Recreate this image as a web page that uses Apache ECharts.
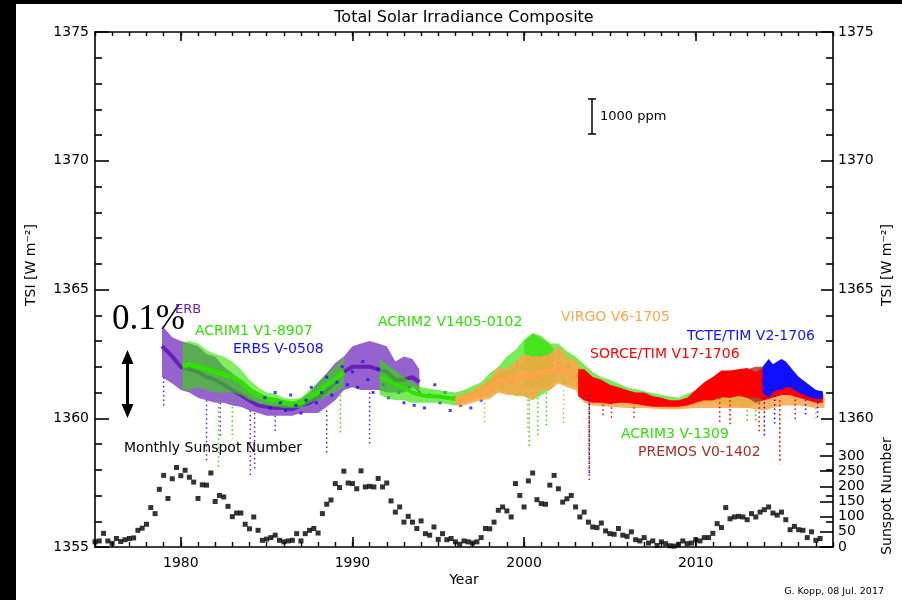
<!DOCTYPE html>
<html>
<head>
<meta charset="utf-8">
<script src="https://cdn.jsdelivr.net/npm/echarts@6/dist/echarts.min.js"></script>
<style>
  html, body { margin: 0; padding: 0; background: #fff; }
  #chart { width: 902px; height: 600px; }
</style>
</head>
<body>
<div id="chart"></div>
<script>
// ---- data (W m^-2, decimal years) ----
const erbYears = [1978.9, 1979.5, 1980, 1980.5, 1981, 1981.5, 1982, 1982.5, 1983, 1983.5, 1984, 1984.5, 1985, 1985.5, 1986, 1986.5, 1987, 1987.5, 1988, 1988.5, 1989, 1989.5, 1990, 1990.5, 1991, 1991.5, 1992, 1992.5, 1993, 1993.5, 1993.9];
const erbMid = [1362.8, 1362.4, 1362.0, 1361.9, 1361.8, 1361.6, 1361.5, 1361.3, 1361.1, 1360.9, 1360.7, 1360.5, 1360.45, 1360.4, 1360.4, 1360.35, 1360.5, 1360.6, 1360.8, 1361.1, 1361.4, 1361.8, 1362.0, 1362.0, 1362.0, 1361.9, 1361.8, 1361.5, 1361.5, 1361.6, 1361.4];
const erbLo = [1361.6, 1361.35, 1361.1, 1361.0, 1360.8, 1360.7, 1360.6, 1360.6, 1360.5, 1360.45, 1360.3, 1360.2, 1360.1, 1360.1, 1360.1, 1360.1, 1360.2, 1360.2, 1360.2, 1360.45, 1360.7, 1361.1, 1361.2, 1361.1, 1361.1, 1361.1, 1361.0, 1361.0, 1361.0, 1361.2, 1361.0];
const erbHi = [1363.6, 1363.15, 1363.0, 1362.9, 1362.8, 1362.5, 1362.4, 1362.0, 1361.75, 1361.5, 1361.1, 1360.8, 1360.7, 1360.65, 1360.6, 1360.6, 1360.75, 1361.0, 1361.4, 1361.75, 1362.15, 1362.4, 1362.8, 1362.9, 1363.0, 1362.9, 1362.8, 1362.2, 1362.4, 1362.3, 1361.9];

const acrim1Years = [1980.1, 1980.5, 1981, 1981.5, 1982, 1982.5, 1983, 1983.5, 1984, 1984.5, 1985, 1985.5, 1986, 1986.5, 1987, 1987.5, 1988, 1988.5, 1989, 1989.5];
const acrim1Mid = [1362.0, 1362.1, 1362.0, 1361.9, 1361.8, 1361.7, 1361.6, 1361.4, 1361.1, 1360.9, 1360.75, 1360.7, 1360.6, 1360.55, 1360.6, 1360.85, 1361.0, 1361.3, 1361.5, 1361.8];
const acrim1Lo = [1361.1, 1361.1, 1361.2, 1361.1, 1361.0, 1361.0, 1361.0, 1360.9, 1360.7, 1360.6, 1360.5, 1360.45, 1360.4, 1360.4, 1360.4, 1360.6, 1360.7, 1360.85, 1361.0, 1361.2];
const acrim1Hi = [1362.9, 1363.0, 1362.9, 1362.65, 1362.5, 1362.4, 1362.2, 1361.9, 1361.5, 1361.2, 1361.0, 1360.95, 1360.8, 1360.75, 1360.8, 1361.1, 1361.4, 1361.7, 1362.0, 1362.4];

const erbsYears = [1984.9, 1985.2, 1985.5, 1985.8, 1986.1, 1986.4, 1986.7, 1987.0, 1987.3, 1987.6, 1987.9, 1988.2, 1988.5, 1988.8, 1989.1, 1989.4, 1989.7, 1990.0, 1990.3, 1990.6, 1990.9, 1991.2, 1991.5, 1991.8, 1992.1, 1992.4, 1992.7, 1993.0, 1993.3, 1993.6, 1993.9, 1994.2, 1994.5, 1994.8, 1995.1, 1995.4, 1995.7, 1996.0, 1996.3, 1996.6, 1996.9, 1997.2, 1997.5, 1997.8, 1998.1, 1998.4, 1998.7, 1999.0, 1999.3, 1999.6, 1999.9, 2000.2, 2000.5, 2000.8, 2001.1, 2001.4, 2001.7, 2002.0, 2002.3, 2002.6, 2002.9, 2003.2, 2003.5];
const erbsVals = [1360.8, 1360.4, 1361.0, 1360.6, 1360.3, 1360.9, 1360.5, 1360.2, 1360.7, 1361.2, 1360.6, 1361.0, 1361.6, 1360.9, 1361.4, 1362.0, 1361.3, 1361.8, 1361.2, 1362.2, 1361.5, 1361.0, 1361.9, 1361.3, 1360.8, 1361.4, 1361.0, 1360.6, 1361.2, 1360.5, 1361.0, 1360.4, 1360.9, 1361.3, 1360.6, 1361.0, 1360.3, 1360.8, 1360.5, 1360.9, 1360.4, 1361.0, 1360.7, 1361.3, 1361.1, 1361.6, 1361.2, 1361.8, 1361.4, 1362.1, 1361.6, 1362.3, 1361.3, 1362.0, 1361.5, 1362.4, 1361.8, 1362.1, 1361.4, 1362.0, 1361.6, 1361.2, 1361.5];

const acrim2Years = [1991.6, 1992, 1992.5, 1993, 1993.5, 1994, 1994.5, 1995, 1995.5, 1996, 1996.5, 1997, 1997.5, 1998, 1998.5, 1999, 1999.5, 2000, 2000.5, 2001, 2001.5, 2001.7];
const acrim2Mid = [1361.6, 1361.5, 1361.3, 1361.2, 1361.0, 1360.9, 1360.85, 1360.85, 1360.8, 1360.75, 1360.85, 1360.95, 1361.1, 1361.4, 1361.6, 1361.75, 1361.9, 1362.0, 1362.1, 1362.0, 1362.0, 1361.9];
const acrim2Lo = [1360.9, 1360.8, 1360.7, 1360.7, 1360.6, 1360.6, 1360.6, 1360.6, 1360.55, 1360.5, 1360.6, 1360.7, 1360.8, 1360.85, 1361.0, 1361.0, 1360.85, 1360.85, 1360.7, 1360.9, 1361.1, 1361.2];
const acrim2Hi = [1362.3, 1362.1, 1361.85, 1361.6, 1361.4, 1361.2, 1361.15, 1361.1, 1361.05, 1361.0, 1361.1, 1361.25, 1361.4, 1361.75, 1362.0, 1362.4, 1362.65, 1363.05, 1363.3, 1363.2, 1362.9, 1362.7];

const acrim3Years = [2000, 2000.5, 2001, 2001.5, 2002, 2002.5, 2003, 2003.5, 2004, 2004.5, 2005, 2005.5, 2006, 2007, 2008, 2009, 2010, 2011, 2012, 2013, 2013.8];
const acrim3Mid = [1362.2, 1362.3, 1362.2, 1362.1, 1362.2, 1362.0, 1361.8, 1361.6, 1361.4, 1361.25, 1361.15, 1361.05, 1360.95, 1360.85, 1360.7, 1360.65, 1360.85, 1361.1, 1361.2, 1361.1, 1361.1];
const acrim3Lo = [1361.2, 1361.2, 1361.2, 1361.3, 1361.4, 1361.3, 1361.2, 1361.0, 1360.9, 1360.9, 1360.8, 1360.75, 1360.7, 1360.65, 1360.55, 1360.5, 1360.6, 1360.6, 1360.5, 1360.4, 1360.6];
const acrim3Hi = [1363.0, 1363.3, 1363.1, 1362.9, 1362.9, 1362.6, 1362.4, 1362.1, 1361.8, 1361.6, 1361.5, 1361.35, 1361.2, 1361.05, 1360.9, 1360.8, 1361.1, 1361.6, 1361.7, 1361.7, 1361.5];

const virgoYears = [1996, 1996.5, 1997, 1997.5, 1998, 1998.5, 1999, 1999.5, 2000, 2000.5, 2001, 2001.5, 2002, 2002.5, 2003, 2003.5, 2004, 2005, 2006, 2007, 2008, 2009, 2010, 2011, 2012, 2013, 2014, 2015, 2016, 2017, 2017.5];
const virgoMid = [1360.7, 1360.75, 1360.85, 1361.0, 1361.15, 1361.5, 1361.5, 1361.5, 1361.7, 1361.6, 1361.8, 1361.8, 1362.0, 1361.8, 1361.7, 1361.3, 1361.1, 1360.85, 1360.7, 1360.6, 1360.5, 1360.5, 1360.65, 1360.95, 1361.1, 1361.15, 1361.1, 1361.3, 1361.0, 1360.7, 1360.7];
const virgoLo = [1360.5, 1360.5, 1360.6, 1360.7, 1360.75, 1361.0, 1360.9, 1360.9, 1360.85, 1360.7, 1361.1, 1361.1, 1361.35, 1361.2, 1361.1, 1360.6, 1360.5, 1360.45, 1360.4, 1360.4, 1360.35, 1360.35, 1360.4, 1360.4, 1360.4, 1360.4, 1360.3, 1360.5, 1360.5, 1360.4, 1360.4];
const virgoHi = [1360.85, 1360.95, 1361.1, 1361.3, 1361.5, 1362.0, 1361.9, 1362.2, 1362.5, 1362.4, 1362.4, 1362.5, 1362.8, 1362.4, 1362.25, 1361.8, 1361.5, 1361.2, 1361.0, 1360.85, 1360.7, 1360.65, 1360.9, 1361.4, 1361.6, 1361.7, 1361.7, 1361.9, 1361.4, 1361.0, 1360.9];

const premosYears = [2010.5, 2011, 2011.5, 2012, 2012.5, 2013, 2013.5, 2014, 2014.3];
const premosMid = [1360.95, 1361.05, 1361.2, 1361.25, 1361.3, 1361.3, 1361.2, 1361.3, 1361.4];
const premosLo = [1360.7, 1360.7, 1360.8, 1360.8, 1360.85, 1360.8, 1360.6, 1360.7, 1360.9];
const premosHi = [1361.3, 1361.5, 1361.7, 1361.7, 1361.8, 1361.9, 1362.0, 1362.0, 1361.9];

const sorceYears = [2003.15, 2003.5, 2004, 2004.5, 2005, 2005.5, 2006, 2006.5, 2007, 2007.5, 2008, 2008.5, 2009, 2009.5, 2010, 2010.5, 2011, 2011.5, 2012, 2012.5, 2013, 2013.5, 2014, 2014.5, 2015, 2015.5, 2016, 2016.5, 2017, 2017.4];
const sorceMid = [1361.4, 1361.35, 1361.2, 1361.1, 1360.95, 1360.9, 1360.85, 1360.8, 1360.7, 1360.65, 1360.6, 1360.55, 1360.55, 1360.6, 1360.8, 1361.0, 1361.1, 1361.3, 1361.3, 1361.35, 1361.4, 1361.3, 1361.3, 1361.5, 1361.6, 1361.4, 1361.2, 1361.05, 1360.9, 1360.85];
const sorceLo = [1360.85, 1360.7, 1360.6, 1360.6, 1360.55, 1360.6, 1360.6, 1360.55, 1360.5, 1360.45, 1360.45, 1360.45, 1360.45, 1360.5, 1360.6, 1360.7, 1360.7, 1360.85, 1360.8, 1360.9, 1360.8, 1360.8, 1360.7, 1360.8, 1360.9, 1360.9, 1360.8, 1360.7, 1360.6, 1360.6];
const sorceHi = [1361.9, 1361.9, 1361.6, 1361.5, 1361.3, 1361.2, 1361.1, 1361.0, 1361.0, 1360.85, 1360.8, 1360.7, 1360.7, 1360.8, 1361.1, 1361.4, 1361.6, 1361.85, 1361.85, 1361.9, 1361.95, 1361.8, 1362.0, 1362.1, 1362.2, 1361.9, 1361.6, 1361.35, 1361.1, 1361.0];

const tcteYears = [2013.9, 2014.25, 2014.5, 2014.75, 2015.0, 2015.25, 2015.5, 2016, 2016.5, 2017, 2017.4];
const tcteMid = [1361.4, 1361.6, 1361.55, 1361.7, 1361.85, 1361.8, 1361.6, 1361.3, 1361.1, 1360.95, 1360.9];
const tcteLo = [1361.0, 1360.8, 1361.0, 1361.1, 1361.1, 1361.2, 1361.2, 1361.0, 1360.85, 1360.75, 1360.75];
const tcteHi = [1362.0, 1362.3, 1362.1, 1362.2, 1362.3, 1362.2, 1362.0, 1361.6, 1361.35, 1361.1, 1361.05];

// downward excursions: [year, top, bottom]
const purpleDips = [[1979.0, 1361.6, 1360.4], [1981.5, 1360.7, 1358.3], [1982.3, 1360.6, 1359.3], [1984.05, 1360.3, 1357.7], [1984.3, 1360.2, 1358.0], [1985.5, 1360.1, 1359.5], [1988.5, 1360.3, 1358.6], [1991.0, 1361.0, 1358.9]];
const greenDips = [[1982.2, 1360.8, 1358.1], [1983.0, 1360.8, 1359.2], [1989.3, 1360.9, 1359.4], [2000.3, 1360.9, 1358.9], [2000.8, 1360.8, 1359.3], [2001.3, 1361.0, 1359.6], [2003.8, 1360.8, 1358.5], [2013.0, 1360.5, 1359.8], [2013.5, 1360.5, 1359.9]];
const orangeDips = [[1997.7, 1360.6, 1359.8], [2000.2, 1360.9, 1359.5], [2002.3, 1361.1, 1359.8], [2003.8, 1360.7, 1358.3], [2012.0, 1360.5, 1359.9], [2014.0, 1360.4, 1359.3], [2014.9, 1360.5, 1358.2], [2017.0, 1360.4, 1359.9]];
const redDips = [[2003.8, 1360.8, 1357.6], [2004.6, 1360.7, 1360.0], [2005.1, 1360.6, 1359.9], [2006.4, 1360.6, 1360.0], [2011.4, 1360.8, 1359.8], [2012.0, 1360.7, 1359.7], [2013.7, 1360.6, 1359.5], [2014.9, 1360.7, 1358.3], [2015.8, 1360.9, 1359.9]];
const blueDips = [[2003.8, 1360.9, 1357.8], [2014.0, 1360.8, 1359.3], [2014.6, 1360.9, 1359.8], [2016.4, 1360.9, 1360.1], [2017.1, 1360.8, 1360.0]];

// sunspot number, one value per quarter starting 1975.0
const sunStart = 1975;
const sunValues = [
  17, 20, 45, 20, 12, 28, 18, 24, 28, 30, 55, 62, 75, 130, 110, 190,
  236, 160, 225, 262, 235, 253, 230, 214, 160, 205, 204, 244, 150, 170, 165, 134,
  100, 112, 112, 75, 60, 99, 55, 22, 26, 31, 39, 22, 17, 20, 22, 44,
  20, 44, 55, 61, 46, 110, 141, 155, 209, 196, 250, 211, 209, 192, 251, 198,
  200, 198, 226, 198, 211, 152, 115, 132, 82, 101, 82, 61, 86, 44, 39, 66,
  25, 44, 24, 28, 17, 9, 20, 17, 13, 17, 31, 61, 60, 82, 121, 132,
  119, 99, 209, 170, 132, 218, 244, 156, 143, 141, 204, 236, 192, 148, 159, 170,
  132, 99, 115, 82, 66, 64, 79, 53, 44, 42, 61, 39, 35, 50, 24, 20,
  31, 13, 20, 5, 17, 11, 4, 3, 9, 20, 11, 13, 24, 20, 31, 31,
  45, 77, 64, 130, 93, 99, 101, 99, 90, 110, 99, 115, 123, 132, 112, 105,
  115, 90, 57, 68, 57, 55, 31, 50, 22, 28
];

const decadeTicks = [1980, 1990, 2000, 2010];

// ---- colours ----
const PURPLE = '#6a1fb8', GREEN = '#2fe000', BLUE = '#1010ff', ORANGE = '#ffa448', RED = '#ff0000', BROWN = '#a3302a';

const FONT = 'DejaVu Sans';

function band(years, lo, hi, color, op) {
  return {
    type: 'custom', xAxisIndex: 0, yAxisIndex: 0, silent: true,
    data: years.map((t, i) => [t, lo[i], hi[i]]),
    encode: { x: 0, y: [1, 2] },
    renderItem: (params, api) => {
      if (params.dataIndex !== 0) return null;
      const pts = [];
      for (let i = 0; i < years.length; i++) pts.push(api.coord([years[i], hi[i]]));
      for (let i = years.length - 1; i >= 0; i--) pts.push(api.coord([years[i], lo[i]]));
      return { type: 'polygon', shape: { points: pts }, style: { fill: color, opacity: op } };
    }
  };
}

function core(years, mid, color, w) {
  return {
    type: 'line', xAxisIndex: 0, yAxisIndex: 0, silent: true,
    data: years.map((t, i) => [t, mid[i]]),
    showSymbol: false, symbol: 'none',
    lineStyle: { color: color, width: w }
  };
}

function dips(list, color) {
  return {
    type: 'custom', xAxisIndex: 0, yAxisIndex: 0, silent: true,
    data: list,
    encode: { x: 0, y: [1, 2] },
    renderItem: (params, api) => {
      const a = api.coord([api.value(0), api.value(1)]);
      const b = api.coord([api.value(0), api.value(2)]);
      return {
        type: 'line', shape: { x1: a[0], y1: a[1], x2: b[0], y2: b[1] },
        style: { stroke: color, lineWidth: 1.5, lineDash: [1.5, 3] }
      };
    }
  };
}

const chart = echarts.init(document.getElementById('chart'), null, { renderer: 'canvas' });

const axisLine = { show: true, lineStyle: { color: '#000', width: 1.6 } };
const plain = v => String(v);

const text = (x, y, str, color, size, extra) => ({
  type: 'text', x: x, y: y, silent: true,
  style: Object.assign({ text: str, fill: color, font: size + 'px "' + FONT + '"', verticalAlign: 'middle' }, extra || {})
});

// draw order = list order (later instruments on top)
const seriesList = [
  band(erbYears, erbLo, erbHi, PURPLE, 0.7),
  core(erbYears, erbMid, PURPLE, 4),
  dips(purpleDips, PURPLE),
  band(acrim1Years, acrim1Lo, acrim1Hi, GREEN, 0.6),
  core(acrim1Years, acrim1Mid, GREEN, 5),
  {
    type: 'scatter', xAxisIndex: 0, yAxisIndex: 0, silent: true,
    data: erbsYears.map((t, i) => [t, erbsVals[i]]),
    symbol: 'rect', symbolSize: 3, itemStyle: { color: BLUE }
  },
  band(acrim2Years, acrim2Lo, acrim2Hi, GREEN, 0.65),
  core(acrim2Years, acrim2Mid, GREEN, 4),
  band(acrim3Years, acrim3Lo, acrim3Hi, GREEN, 0.65),
  dips(greenDips, GREEN),
  band(virgoYears, virgoLo, virgoHi, ORANGE, 0.85),
  core(virgoYears, virgoMid, ORANGE, 5),
  dips(orangeDips, ORANGE),
  band(premosYears, premosLo, premosHi, BROWN, 0.8),
  band(sorceYears, sorceLo, sorceHi, RED, 1),
  core(sorceYears, sorceMid, RED, 4),
  dips(redDips, RED),
  band(tcteYears, tcteLo, tcteHi, BLUE, 1),
  core(tcteYears, tcteMid, BLUE, 4),
  dips(blueDips, BLUE),
  {
    type: 'scatter', xAxisIndex: 4, yAxisIndex: 2, silent: true,
    data: sunValues.map((v, i) => [sunStart + i / 4, v]),
    symbol: 'rect', symbolSize: 5, itemStyle: { color: '#000' }
  }
];
seriesList.forEach((s, i) => { s.z = 2 + i; });

const option = {
  animation: false,
  backgroundColor: '#fff',
  grid: [
    { left: 95, top: 32, width: 738, height: 515 },
    { left: 95, top: 456, width: 738, height: 91 }
  ],
  xAxis: [
    { gridIndex: 0, type: 'value', position: 'bottom', min: 1975, max: 2018,
      axisLine: axisLine, splitLine: { show: false },
      axisTick: { inside: true, length: 10, customValues: decadeTicks, lineStyle: { color: '#000', width: 1.6 } },
      axisLabel: { customValues: decadeTicks, formatter: plain, color: '#000', fontFamily: FONT, fontSize: 14, margin: 9 } },
    { gridIndex: 0, type: 'value', position: 'bottom', min: 1975, max: 2018, interval: 1,
      axisLine: { show: false }, splitLine: { show: false }, axisLabel: { show: false },
      axisTick: { inside: true, length: 5, lineStyle: { color: '#000', width: 1.4 } } },
    { gridIndex: 0, type: 'value', position: 'top', min: 1975, max: 2018,
      axisLine: axisLine, splitLine: { show: false }, axisLabel: { show: false },
      axisTick: { inside: true, length: 9, customValues: decadeTicks, lineStyle: { color: '#000', width: 1.6 } } },
    { gridIndex: 0, type: 'value', position: 'top', min: 1975, max: 2018, interval: 1,
      axisLine: { show: false }, splitLine: { show: false }, axisLabel: { show: false },
      axisTick: { inside: true, length: 4, lineStyle: { color: '#000', width: 1.4 } } },
    { gridIndex: 1, type: 'value', min: 1975, max: 2018, show: false }
  ],
  yAxis: [
    { gridIndex: 0, type: 'value', position: 'left', min: 1355, max: 1375, interval: 5,
      axisLine: axisLine, splitLine: { show: false },
      axisTick: { inside: true, length: 14, lineStyle: { color: '#000', width: 1.6 } },
      minorTick: { show: true, splitNumber: 5, length: 7, lineStyle: { color: '#000', width: 1.6 } },
      minorSplitLine: { show: false },
      axisLabel: { formatter: plain, color: '#000', fontFamily: FONT, fontSize: 14, margin: 6 } },
    { gridIndex: 0, type: 'value', position: 'right', min: 1355, max: 1375, interval: 5,
      axisLine: axisLine, splitLine: { show: false },
      axisTick: { inside: true, length: 12, lineStyle: { color: '#000', width: 1.6 } },
      minorTick: { show: true, splitNumber: 5, length: 7, lineStyle: { color: '#000', width: 1.6 } },
      minorSplitLine: { show: false },
      axisLabel: { color: '#000', fontFamily: FONT, fontSize: 14, margin: 5,
        formatter: v => (v === 1355 ? '' : String(v)) } },
    { gridIndex: 1, type: 'value', position: 'right', min: 0, max: 300, interval: 50,
      axisLine: { show: false }, splitLine: { show: false },
      axisTick: { inside: true, length: 13, lineStyle: { color: '#000', width: 1.6 } },
      axisLabel: { formatter: plain, color: '#000', fontFamily: FONT, fontSize: 14, margin: 5, lineHeight: 14 } }
  ],
  series: seriesList,
  graphic: [
    // black frame edges of the original figure
    { type: 'rect', shape: { x: 0, y: 0, width: 16, height: 600 }, style: { fill: '#000' }, silent: true },
    { type: 'rect', shape: { x: 0, y: 0, width: 902, height: 4 }, style: { fill: '#000' }, silent: true },
    text(464, 18, 'Total Solar Irradiance Composite', '#000', 16, { align: 'center' }),
    text(464, 580, 'Year', '#000', 14, { align: 'center' }),
    text(884, 592, 'G. Kopp, 08 Jul. 2017', '#000', 9.5, { align: 'right' }),
    { type: 'text', x: 31, y: 265, rotation: Math.PI / 2, silent: true,
      style: { text: 'TSI [W m\u207B\u00B2]', fill: '#000', font: '14px "' + FONT + '"', align: 'center', verticalAlign: 'middle' } },
    { type: 'text', x: 887, y: 265, rotation: Math.PI / 2, silent: true,
      style: { text: 'TSI [W m\u207B\u00B2]', fill: '#000', font: '14px "' + FONT + '"', align: 'center', verticalAlign: 'middle' } },
    { type: 'text', x: 887, y: 496, rotation: Math.PI / 2, silent: true,
      style: { text: 'Sunspot Number', fill: '#000', font: '14px "' + FONT + '"', align: 'center', verticalAlign: 'middle' } },
    text(124, 448, 'Monthly Sunspot Number', '#000', 14),
    // 0.1% marker and arrow
    text(112, 320, '0.1%', '#000', 35, { font: '35px "Liberation Serif"' }),
    { type: 'line', shape: { x1: 127.5, y1: 360, x2: 127.5, y2: 408 }, style: { stroke: '#000', lineWidth: 3 }, silent: true },
    { type: 'polygon', shape: { points: [[127.5, 350], [121.5, 364], [133.5, 364]] }, style: { fill: '#000' }, silent: true },
    { type: 'polygon', shape: { points: [[127.5, 418], [121.5, 404], [133.5, 404]] }, style: { fill: '#000' }, silent: true },
    // 1000 ppm scale bar
    { type: 'line', shape: { x1: 592, y1: 99, x2: 592, y2: 134 }, style: { stroke: '#000', lineWidth: 1.5 }, silent: true },
    { type: 'line', shape: { x1: 588, y1: 99, x2: 596, y2: 99 }, style: { stroke: '#000', lineWidth: 1.5 }, silent: true },
    { type: 'line', shape: { x1: 588, y1: 134, x2: 596, y2: 134 }, style: { stroke: '#000', lineWidth: 1.5 }, silent: true },
    text(600, 117, '1000 ppm', '#000', 13),
    // instrument labels
    text(175, 310, 'ERB', PURPLE, 13),
    text(195, 331, 'ACRIM1 V1-8907', GREEN, 14),
    text(233, 349, 'ERBS V-0508', BLUE, 14),
    text(378, 322, 'ACRIM2 V1405-0102', GREEN, 14),
    text(561, 317, 'VIRGO V6-1705', ORANGE, 14),
    text(687, 336, 'TCTE/TIM V2-1706', BLUE, 14),
    text(590, 354, 'SORCE/TIM V17-1706', RED, 14),
    text(621, 434, 'ACRIM3 V-1309', GREEN, 14),
    text(638, 452, 'PREMOS V0-1402', BROWN, 14)
  ]
};

chart.setOption(option);
</script>
</body>
</html>
